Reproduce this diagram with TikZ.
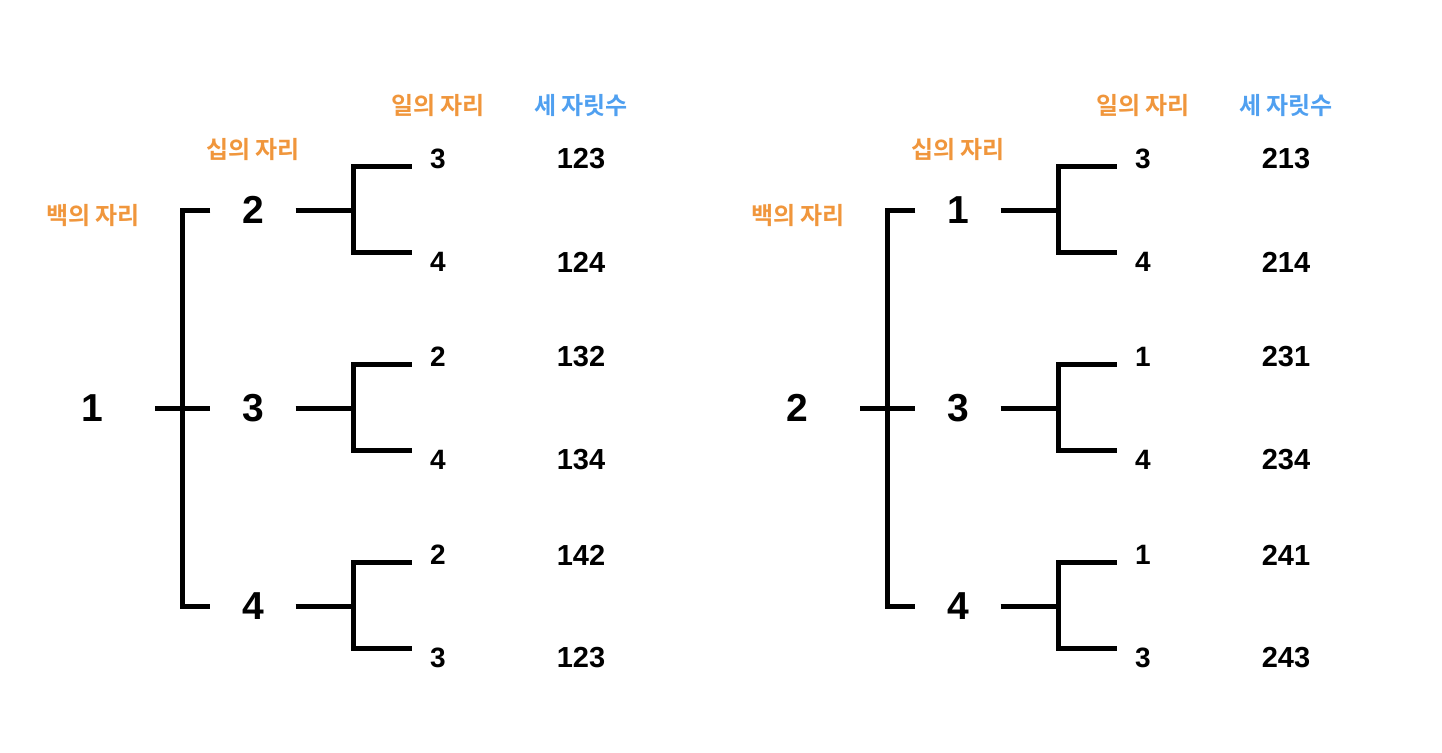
\documentclass[tikz,border=0pt]{standalone}
\usepackage{fontspec}
\setmainfont{Liberation Sans}
\newfontfamily\kr{Noto Sans CJK KR Bold}
\definecolor{place}{RGB}{240,150,60}
\definecolor{total}{RGB}{80,160,240}
\tikzset{
  head/.style={font=\kr\fontsize{24}{24}\selectfont, text=place, inner sep=0pt},
  root/.style={font=\bfseries\fontsize{39}{39}\selectfont, minimum width=126pt, inner sep=0pt},
  mid/.style={font=\bfseries\fontsize{39}{39}\selectfont, minimum width=85pt, inner sep=0pt},
  leaf/.style={font=\bfseries\fontsize{28}{28}\selectfont, minimum width=52pt, inner sep=0pt},
  num/.style={font=\bfseries\fontsize{29}{29}\selectfont, inner sep=0pt},
  branch/.style={line width=5pt, line join=miter},
}
\begin{document}
\begin{tikzpicture}[x=1pt, y=-1pt]
\useasboundingbox (0,0) rectangle (1442,752);
% first tree: hundreds digit 1
\begin{scope}[name prefix=L-]
  \node[head] (h100) at (93,216) {백의 자리};
  \node[head] (h10) at (253,150) {십의 자리};
  \node[head] (h1) at (438,106) {일의 자리};
  \node[head, text=total] (hn) at (581,106) {세 자릿수};
  \node[root] (r) at (92,408) {1};
  \coordinate (j) at (182,408);
  \foreach \i/\m/\a/\b/\na/\nb/\y in {1/2/3/4/123/124/210, 2/3/2/4/132/134/408, 3/4/2/3/142/123/606}{
    \node[mid] (m\i) at (253,\y) {\m};
    \node[leaf] (a\i) at (438,\y-51) {\a};
    \node[leaf] (b\i) at (438,\y+52) {\b};
    \node[num] (na\i) at (581,\y-51) {\na};
    \node[num] (nb\i) at (581,\y+52) {\nb};
    \coordinate (k\i) at (353,\y);
    \draw[branch] (m\i.east) -- (k\i);
    \draw[branch] ([yshift=-7pt]a\i.west) -| (k\i) |- ([yshift=10pt]b\i.west);
  }
  \draw[branch] (m1.west) -| (j) |- (m3.west);
  \draw[branch] (r.east) -- (m2.west);
\end{scope}
% second tree: hundreds digit 2
\begin{scope}[xshift=705pt, name prefix=R-]
  \node[head] (h100) at (93,216) {백의 자리};
  \node[head] (h10) at (253,150) {십의 자리};
  \node[head] (h1) at (438,106) {일의 자리};
  \node[head, text=total] (hn) at (581,106) {세 자릿수};
  \node[root] (r) at (92,408) {2};
  \coordinate (j) at (182,408);
  \foreach \i/\m/\a/\b/\na/\nb/\y in {1/1/3/4/213/214/210, 2/3/1/4/231/234/408, 3/4/1/3/241/243/606}{
    \node[mid] (m\i) at (253,\y) {\m};
    \node[leaf] (a\i) at (438,\y-51) {\a};
    \node[leaf] (b\i) at (438,\y+52) {\b};
    \node[num] (na\i) at (581,\y-51) {\na};
    \node[num] (nb\i) at (581,\y+52) {\nb};
    \coordinate (k\i) at (353,\y);
    \draw[branch] (m\i.east) -- (k\i);
    \draw[branch] ([yshift=-7pt]a\i.west) -| (k\i) |- ([yshift=10pt]b\i.west);
  }
  \draw[branch] (m1.west) -| (j) |- (m3.west);
  \draw[branch] (r.east) -- (m2.west);
\end{scope}
\end{tikzpicture}
\end{document}
